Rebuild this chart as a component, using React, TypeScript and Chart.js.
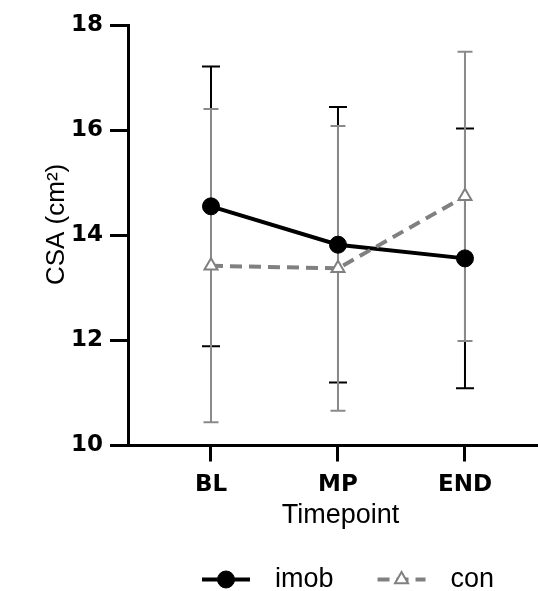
import React, { useEffect, useRef } from "react";
import { Chart, registerables } from "chart.js";

Chart.register(...registerables);

// ---- data ----
const categories = ["BL", "MP", "END"];
const imobMean = [14.55, 13.82, 13.56];
const imobSD = [2.66, 2.62, 2.47];
const conMean = [13.42, 13.37, 14.74];
const conSD = [2.98, 2.71, 2.75];
const seriesLabels = ["imob", "con"];
const yTicks = [10, 12, 14, 16, 18];

const FONT = '"Liberation Sans", Arial, Helvetica, sans-serif';
const TICK_FONT = '"DejaVu Sans", "Liberation Sans", Arial, sans-serif';
const IMOB_COLOR = "#000000";
const CON_COLOR = "#808080";

const errorBarPlugin = {
  id: "errorBars",
  beforeDatasetsDraw(chart: any) {
    const { ctx, scales } = chart;
    const xs = scales.x;
    const ys = scales.y;
    const specs = [
      { mean: imobMean, sd: imobSD, color: IMOB_COLOR, cap: 9, width: 2 },
      { mean: conMean, sd: conSD, color: "#8a8a8a", cap: 7.5, width: 2 },
    ];
    ctx.save();
    specs.forEach((s) => {
      ctx.strokeStyle = s.color;
      ctx.lineWidth = s.width;
      s.mean.forEach((m, i) => {
        const x = xs.getPixelForValue(i + 1);
        const yHi = ys.getPixelForValue(m + s.sd[i]);
        const yLo = ys.getPixelForValue(m - s.sd[i]);
        ctx.beginPath();
        ctx.moveTo(x, yHi);
        ctx.lineTo(x, yLo);
        ctx.moveTo(x - s.cap, yHi);
        ctx.lineTo(x + s.cap, yHi);
        ctx.moveTo(x - s.cap, yLo);
        ctx.lineTo(x + s.cap, yLo);
        ctx.stroke();
      });
    });
    ctx.restore();
  },
};

const legendPlugin = {
  id: "lineLegend",
  afterDraw(chart: any) {
    const { ctx } = chart;
    const y = chart.height - 11.5;
    let x = chart.chartArea.left + 74;
    const lineLen = 48;
    ctx.save();
    ctx.font = `27px ${FONT}`;
    ctx.textBaseline = "middle";
    ctx.textAlign = "left";
    chart.data.datasets.forEach((ds: any) => {
      ctx.strokeStyle = ds.borderColor;
      ctx.lineWidth = ds.borderWidth;
      ctx.setLineDash(ds.borderDash || []);
      ctx.beginPath();
      ctx.moveTo(x, y);
      ctx.lineTo(x + lineLen, y);
      ctx.stroke();
      ctx.setLineDash([]);
      const cx = x + lineLen / 2;
      ctx.lineWidth = ds.pointBorderWidth;
      ctx.fillStyle = ds.pointBackgroundColor;
      ctx.strokeStyle = ds.pointBorderColor;
      ctx.beginPath();
      if (ds.pointStyle === "triangle") {
        const r = ds.pointRadius;
        ctx.moveTo(cx, y - r);
        ctx.lineTo(cx + r * Math.sin(Math.PI / 3), y + r * 0.5);
        ctx.lineTo(cx - r * Math.sin(Math.PI / 3), y + r * 0.5);
        ctx.closePath();
      } else {
        ctx.arc(cx, y, ds.pointRadius, 0, Math.PI * 2);
      }
      ctx.fill();
      ctx.stroke();
      x += lineLen + 25;
      ctx.fillStyle = "#000";
      ctx.fillText(ds.label, x, y);
      x += ctx.measureText(ds.label).width + 44;
    });
    ctx.restore();
  },
};

export default function App() {
  const ref = useRef<HTMLCanvasElement | null>(null);

  useEffect(() => {
    if (!ref.current) return;
    const chart = new Chart(ref.current, {
      type: "line",
      data: {
        datasets: [
          {
            label: seriesLabels[0],
            data: imobMean.map((v, i) => ({ x: i + 1, y: v })),
            borderColor: IMOB_COLOR,
            borderWidth: 4,
            pointStyle: "circle",
            pointRadius: 8.5,
            pointBackgroundColor: IMOB_COLOR,
            pointBorderColor: IMOB_COLOR,
            pointBorderWidth: 1,
            tension: 0,
            order: 2,
          },
          {
            label: seriesLabels[1],
            data: conMean.map((v, i) => ({ x: i + 1, y: v })),
            borderColor: CON_COLOR,
            borderWidth: 4,
            borderDash: [12, 7],
            pointStyle: "triangle",
            pointRadius: 7.5,
            pointBackgroundColor: "#ffffff",
            pointBorderColor: CON_COLOR,
            pointBorderWidth: 2,
            tension: 0,
            order: 1,
          },
        ] as any,
      },
      options: {
        animation: false,
        responsive: false,
        maintainAspectRatio: false,
        layout: { autoPadding: false, padding: { top: 25, right: 0, bottom: 68.4, left: 0 } },
        plugins: {
          legend: { display: false },
          tooltip: { enabled: false },
        },
        scales: {
          x: {
            type: "linear",
            min: 0.3465,
            max: 3.575,
            afterBuildTicks: (scale: any) => {
              scale.ticks = categories.map((_, i) => ({ value: i + 1 }));
            },
            afterFit: (scale: any) => {
              scale.paddingLeft = 0;
              scale.paddingRight = 0;
            },
            ticks: {
              autoSkip: false,
              maxRotation: 0,
              padding: 10,
              color: "#000",
              font: { family: TICK_FONT, size: 23, weight: "bold", lineHeight: 1.2 },
              callback: (v: any) => categories[Math.round(Number(v)) - 1] ?? "",
            },
            grid: {
              drawOnChartArea: false,
              drawTicks: true,
              tickLength: 16,
              tickWidth: 3,
              lineWidth: 3,
              tickColor: "#000",
              color: "#000",
            },
            border: { display: true, width: 3, color: "#000" },
            title: {
              display: true,
              text: "  Timepoint",
              color: "#000",
              font: { family: FONT, size: 27, lineHeight: 0.5 },
              padding: { top: 0, bottom: 0 },
            },
          },
          y: {
            type: "linear",
            min: yTicks[0],
            max: yTicks[yTicks.length - 1],
            afterBuildTicks: (scale: any) => {
              scale.ticks = yTicks.map((v) => ({ value: v }));
            },
            ticks: {
              padding: 7,
              color: "#000",
              font: { family: TICK_FONT, size: 23, weight: "bold", lineHeight: 1.2 },
            },
            grid: {
              drawOnChartArea: false,
              drawTicks: true,
              tickLength: 18,
              tickWidth: 3,
              lineWidth: 3,
              tickColor: "#000",
              color: "#000",
            },
            border: { display: true, width: 3, color: "#000" },
            title: {
              display: true,
              text: "   CSA (cm²)",
              color: "#000",
              font: { family: FONT, size: 26, lineHeight: 0.5 },
              padding: { top: 50.5, bottom: 0.5 },
            },
          },
        },
      },
      plugins: [errorBarPlugin, legendPlugin],
    } as any);
    return () => chart.destroy();
  }, []);

  return (
    <div style={{ position: "fixed", left: 0, top: 0, width: 538, height: 591, background: "#fff" }}>
      <canvas ref={ref} width={538} height={591} style={{ display: "block", width: 538, height: 591 }} />
    </div>
  );
}
